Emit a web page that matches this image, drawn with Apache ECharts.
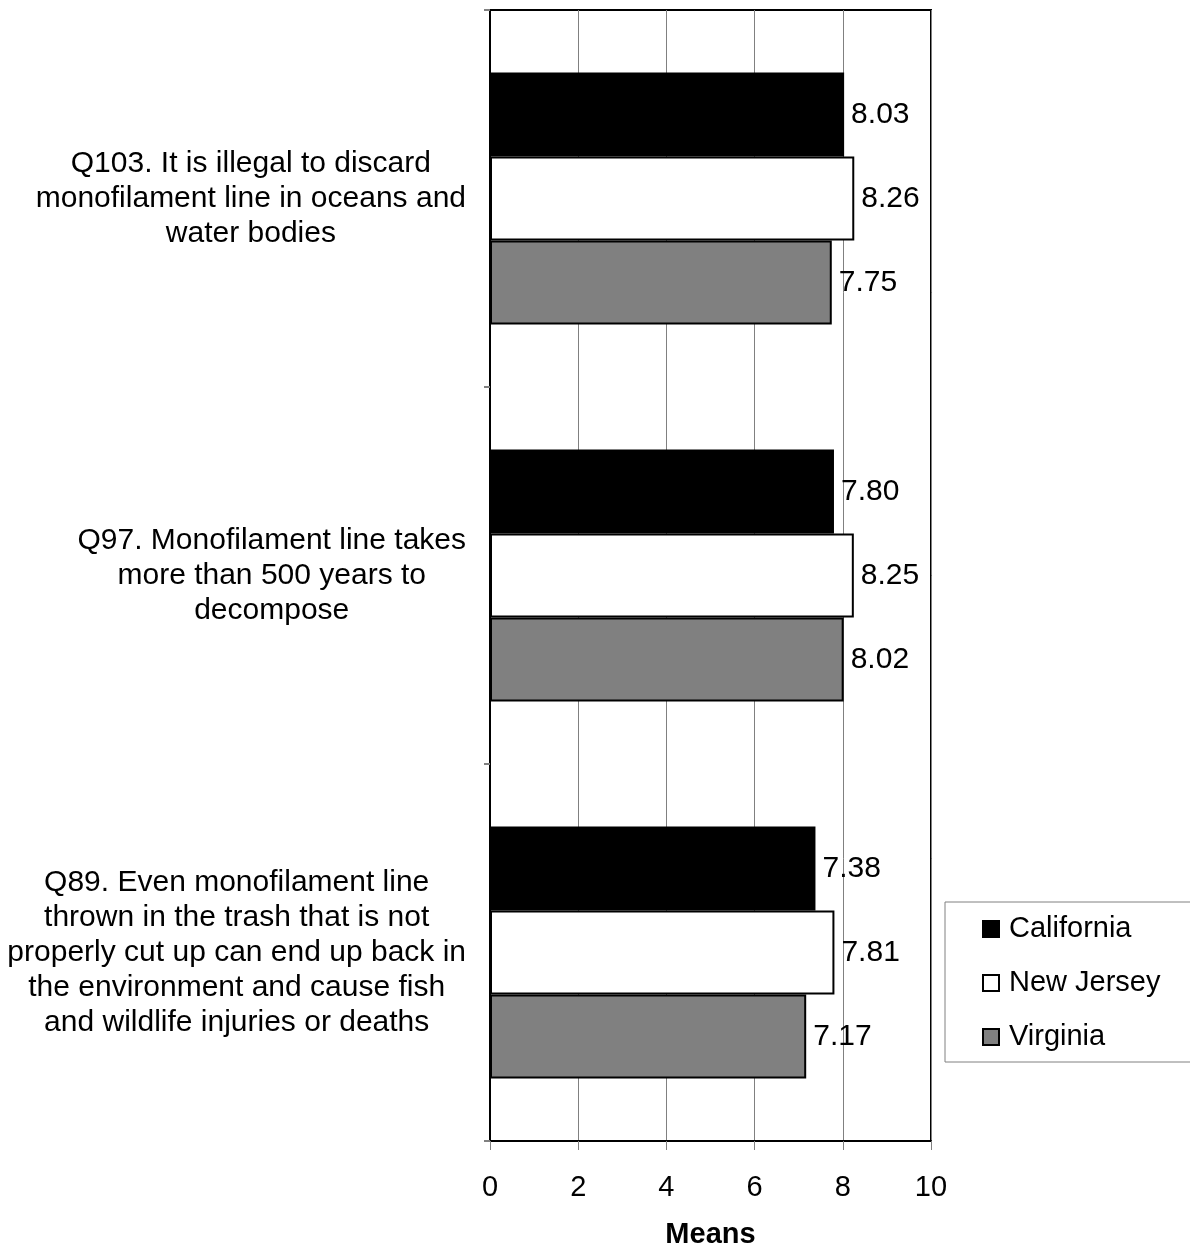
<!DOCTYPE html>
<html>
<head>
<meta charset="utf-8">
<script src="https://cdn.jsdelivr.net/npm/echarts@6/dist/echarts.min.js"></script>
<style>
html,body{margin:0;padding:0;background:#fff;}
#chart{width:1190px;height:1249px;}
</style>
</head>
<body>
<div id="chart"></div>
<script>
var categories = [
  "Q103. It is illegal to discard\nmonofilament line in oceans and\nwater bodies",
  "Q97. Monofilament line takes\nmore than 500 years to\ndecompose",
  "Q89. Even monofilament line\nthrown in the trash that is not\nproperly cut up can end up back in\nthe environment and cause fish\nand wildlife injuries or deaths"
];
var seriesNames = ["California", "New Jersey", "Virginia"];
var california = [8.03, 7.80, 7.38];
var newJersey = [8.26, 8.25, 7.81];
var virginia = [7.75, 8.02, 7.17];
var xTicks = [0, 2, 4, 6, 8, 10];

var FONT = "'Liberation Sans', Arial, sans-serif";
var fills = ["#000000", "#ffffff", "#808080"];
var values = [california, newJersey, virginia];

var chart = echarts.init(document.getElementById('chart'), null, {renderer: 'canvas'});

var series = seriesNames.map(function (name, i) {
  return {
    name: name,
    type: 'bar',
    data: values[i],
    barWidth: 84,
    barGap: '0%',
    itemStyle: {color: fills[i], borderColor: '#000', borderWidth: 2},
    label: {
      show: true,
      position: 'right',
      distance: 7,
      color: '#000',
      fontFamily: FONT,
      fontSize: 30,
      formatter: function (p) { return p.value.toFixed(2); }
    },
    emphasis: {disabled: true},
    animation: false
  };
});

chart.setOption({
  animation: false,
  backgroundColor: '#fff',
  textStyle: {fontFamily: FONT},
  grid: {
    left: 490, top: 10, right: 259, bottom: 108,
    containLabel: false,
    outerBoundsMode: 'none',
    show: true, borderColor: '#000', borderWidth: 2, backgroundColor: 'transparent'
  },
  legend: {
    orient: 'vertical',
    left: 945,
    top: 902,
    padding: [12, 40, 10, 37],
    itemWidth: 16,
    itemHeight: 16,
    itemGap: 24,
    icon: 'rect',
    borderColor: '#808080',
    borderWidth: 1,
    textStyle: {fontFamily: FONT, fontSize: 29, color: '#000', lineHeight: 30, padding: [0, 0, 0, 5]},
    data: seriesNames
  },
  xAxis: {
    type: 'value',
    min: 0, max: 10, interval: 2,
    name: 'Means',
    nameLocation: 'middle',
    nameGap: 79,
    nameTextStyle: {fontFamily: FONT, fontSize: 29, fontWeight: 'bold', color: '#000'},
    axisLine: {show: true, lineStyle: {color: '#000', width: 2}},
    axisTick: {show: true, length: 9, lineStyle: {color: '#808080', width: 1}},
    axisLabel: {fontFamily: FONT, fontSize: 29, color: '#000', margin: 32,
      formatter: function (v) { return xTicks.indexOf(v) >= 0 ? String(v) : ''; }},
    splitLine: {show: true, lineStyle: {color: '#808080', width: 1}}
  },
  yAxis: {
    type: 'category',
    inverse: true,
    data: categories,
    axisLine: {show: true, lineStyle: {color: '#000', width: 2}},
    axisTick: {show: true, length: 6, lineStyle: {color: '#808080', width: 2}},
    axisLabel: {
      margin: 24,
      fontFamily: FONT,
      fontSize: 30,
      color: '#000',
      formatter: function (v) {
        return v.split('\n').map(function (l) { return '{c|' + l + '}'; }).join('\n');
      },
      rich: {c: {align: 'center', fontFamily: FONT, fontSize: 30, lineHeight: 35, color: '#000'}}
    },
    splitLine: {show: false}
  },
  series: series
});
</script>
</body>
</html>
